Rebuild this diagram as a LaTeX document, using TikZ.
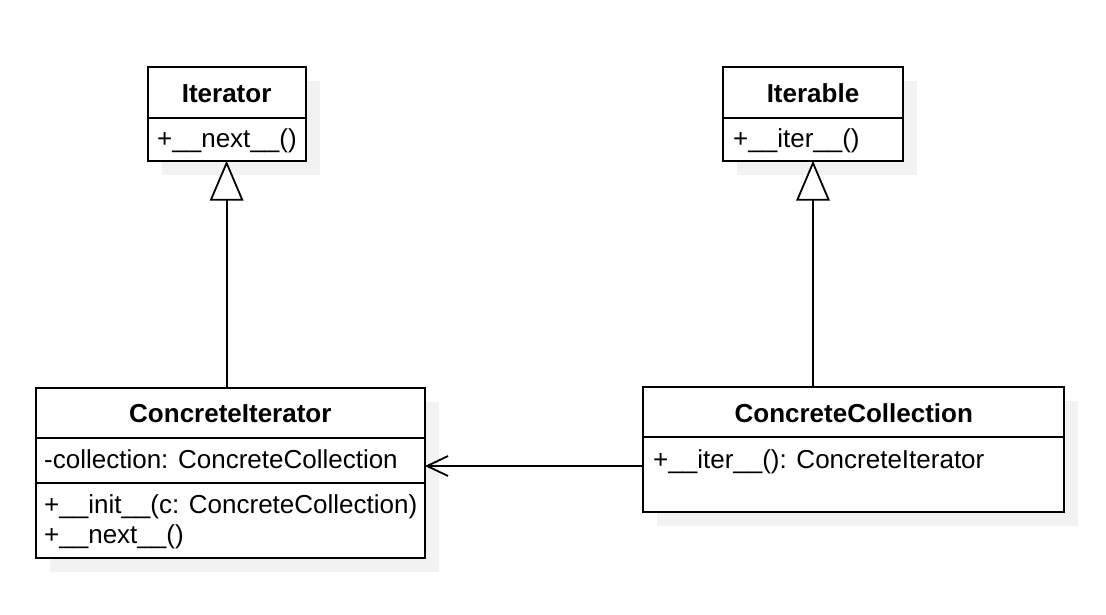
\documentclass[tikz,border=0pt]{standalone}
\usepackage{fontspec}
\setmainfont{Liberation Sans}
\usetikzlibrary{arrows.meta}
\definecolor{shadowgrey}{HTML}{F2F2F2}
\tikzset{
  umlbox/.style={draw, line width=2pt, fill=white, inner sep=0pt, outer sep=0pt},
  shadowbox/.style={fill=shadowgrey, draw=none},
  divider/.style={line width=2pt},
  titletext/.style={font=\fontsize{26pt}{30pt}\selectfont\bfseries, inner sep=0pt, anchor=base},
  membertext/.style={font=\fontsize{26pt}{30pt}\selectfont, inner sep=0pt, anchor=base west},
  inherit/.style={line width=1.8pt, -{Triangle[fill=white, length=40pt, width=33.6pt, line width=1.8pt]}},
  assoc/.style={line width=1.8pt, -{Straight Barb[length=21pt, width=20pt, line width=1.8pt]}}
}
\begin{document}
\begin{tikzpicture}[x=1pt, y=-1pt]
\useasboundingbox[fill=white] (0,0) rectangle (1106,614);
% shadows
\fill[shadowbox] (161.5,81.3) rectangle (319.7,174.7);
\fill[shadowbox] (737.3,81.3) rectangle (916.7,174.7);
\fill[shadowbox] (49.7,402.3) rectangle (439,571.7);
\fill[shadowbox] (657.3,401.3) rectangle (1078.3,525.7);
% boxes
\node[umlbox, minimum width=158.2pt, minimum height=93.4pt] (iter) at (226.6,114) {};
\node[umlbox, minimum width=179.4pt, minimum height=93.4pt] (itbl) at (813,114) {};
\node[umlbox, minimum width=389.3pt, minimum height=169.4pt] (ci) at (230.35,473) {};
\node[umlbox, minimum width=421pt, minimum height=124.4pt] (cc) at (853.8,449.5) {};
% dividers
\draw[divider] (iter.west |- 0,118) -- (iter.east |- 0,118);
\draw[divider] (itbl.west |- 0,118) -- (itbl.east |- 0,118);
\draw[divider] (ci.west |- 0,437.7) -- (ci.east |- 0,437.7);
\draw[divider] (ci.west |- 0,483.3) -- (ci.east |- 0,483.3);
\draw[divider] (cc.west |- 0,437.3) -- (cc.east |- 0,437.3);
% texts
\node[titletext] (iterT) at (226.6,102) {Iterator};
\node[membertext] (iterM) at (157,147.5) {+\_\_next\_\_()};
\node[titletext] (itblT) at (813,102) {Iterable};
\node[membertext] (itblM) at (733,147.5) {+\_\_iter\_\_()};
\node[titletext] (ciT) at (230.35,422) {ConcreteIterator};
\node[membertext] (ciA) at (44,468) {-collection: ConcreteCollection};
\node[membertext] (ciM1) at (44,513.3) {+\_\_init\_\_(c: ConcreteCollection)};
\node[membertext] (ciM2) at (44,543.3) {+\_\_next\_\_()};
\node[titletext] (ccT) at (853.8,422) {ConcreteCollection};
\node[membertext] (ccM) at (653,468) {+\_\_iter\_\_(): ConcreteIterator};
% connectors
\draw[inherit] (iter.south |- ci.north) -- (iter.south);
\draw[inherit] (itbl.south |- cc.north) -- (itbl.south);
\draw[assoc] (cc.west |- 0,466) -- (ci.east |- 0,466);
\end{tikzpicture}
\end{document}
